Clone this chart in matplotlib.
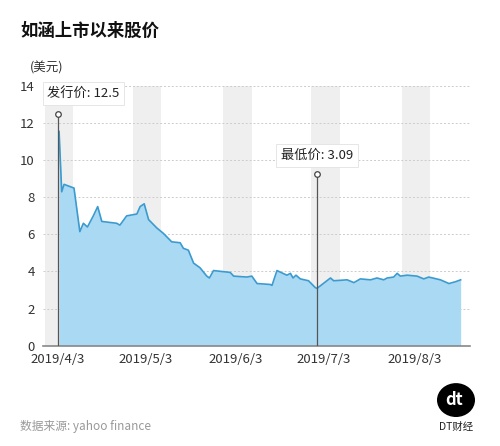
import matplotlib
matplotlib.use("Agg")
import matplotlib.pyplot as plt
from matplotlib.patches import Circle

plt.rcParams['font.family'] = ['Noto Sans CJK SC', 'DejaVu Sans']

# trading day offsets from 2019/4/3 and closing prices (USD)
days = [0.5, 1.4, 2.2, 5.6, 7.6, 8.8, 10.2, 12.2, 13.7, 15.1, 20.2, 21.3, 23.6, 27.1,
        28.2, 29.6, 31.1, 33.9, 36.2, 39.0, 41.9, 43.0, 44.7, 46.5, 48.7, 51.0, 51.9,
        53.3, 59.0, 60.2, 64.7, 66.4, 68.2, 72.7, 73.3, 75.0, 78.4, 79.6, 80.5, 81.5,
        83.0, 85.8, 88.1, 88.7, 93.3, 94.4, 99.0, 101.3, 103.5, 107.0, 109.2, 111.5,
        112.7, 114.9, 116.1, 117.2, 119.5, 122.9, 125.2, 126.9, 130.9, 133.8, 136.1, 137.8]
prices = [11.55, 8.3, 8.7, 8.5, 6.15, 6.6, 6.4, 7.0, 7.5, 6.7, 6.6, 6.5, 7.0, 7.1,
          7.5, 7.65, 6.8, 6.35, 6.05, 5.6, 5.55, 5.25, 5.15, 4.45, 4.2, 3.75, 3.65,
          4.05, 3.95, 3.75, 3.7, 3.75, 3.35, 3.3, 3.25, 4.05, 3.8, 3.9, 3.65, 3.8,
          3.6, 3.5, 3.13, 3.09, 3.65, 3.5, 3.55, 3.4, 3.6, 3.55, 3.65, 3.55,
          3.65, 3.7, 3.9, 3.75, 3.8, 3.75, 3.6, 3.7, 3.55, 3.35, 3.45, 3.55]
tick_days = [0, 30, 61, 91, 122]
tick_labels = ["2019/4/3", "2019/5/3", "2019/6/3", "2019/7/3", "2019/8/3"]
ipo_day, ipo_price = 0, 12.5
low_day, low_price = 88.7, 3.09

fig = plt.figure(figsize=(5.0, 4.46), dpi=100)
ax = fig.add_axes([0.086, 0.225, 0.854, 0.582])

for d in tick_days:
    ax.axvspan(d - 4.3, d + 5.4, color="#efefef", zorder=0, lw=0)

ax.fill_between(days, prices, color="#a9d9f3", zorder=2, lw=0)
ax.plot(days, prices, color="#3b9bcf", lw=1.2, zorder=3)

for y in range(2, 15, 2):
    ax.axhline(y, color="#cccccc", lw=0.7, ls=(0, (2, 2)), zorder=1)

# annotations
ax.plot([ipo_day, ipo_day], [0, ipo_price], color="#555555", lw=0.9, zorder=4)
ax.plot(ipo_day, ipo_price, "o", ms=4, mfc="white", mec="#444444", mew=0.9, zorder=5)
ax.plot([low_day, low_day], [0, 9.25], color="#555555", lw=0.9, zorder=4)
ax.plot(low_day, 9.25, "o", ms=4, mfc="white", mec="#444444", mew=0.9, zorder=5)
box = dict(boxstyle="square,pad=0.35", fc="white", ec="#e2e2e2", lw=0.6)
ax.text(-3.5, 13.6, "发行价: 12.5", fontsize=9.5, color="#222222", va="center", ha="left",
        bbox=box, zorder=6)
ax.text(low_day, 10.25, "最低价: 3.09", fontsize=9.5, color="#222222", va="center", ha="center",
        bbox=box, zorder=6)

ax.set_xlim(-5, 141)
ax.set_ylim(0, 14)
ax.set_yticks(range(0, 15, 2))
ax.set_xticks(tick_days)
ax.set_xticklabels(tick_labels)
ax.tick_params(axis="both", length=0, labelsize=9.5, colors="#333333")
ax.tick_params(axis="x", pad=5)
ax.tick_params(axis="y", pad=6)
for s in ["top", "right", "left"]:
    ax.spines[s].set_visible(False)
ax.spines["bottom"].set_color("#888888")
ax.spines["bottom"].set_linewidth(1.2)

fig.text(0.04, 0.92, "如涵上市以来股价", fontsize=12.5, fontweight="bold", color="#111111")
fig.text(0.06, 0.84, "(美元)", fontsize=9, color="#333333")
fig.text(0.04, 0.035, "数据来源: yahoo finance", fontsize=8.5, color="#999999")

fig.patches.append(Circle((0.912, 0.103), 0.038, transform=fig.transFigure,
                          facecolor="black", edgecolor="none"))
fig.text(0.908, 0.103, "dt", fontsize=12, fontweight="bold", color="white",
         ha="center", va="center")
fig.text(0.913, 0.035, "DT财经", fontsize=7.5, color="#222222", ha="center")

fig.savefig("out.png", dpi=100, facecolor="white")
